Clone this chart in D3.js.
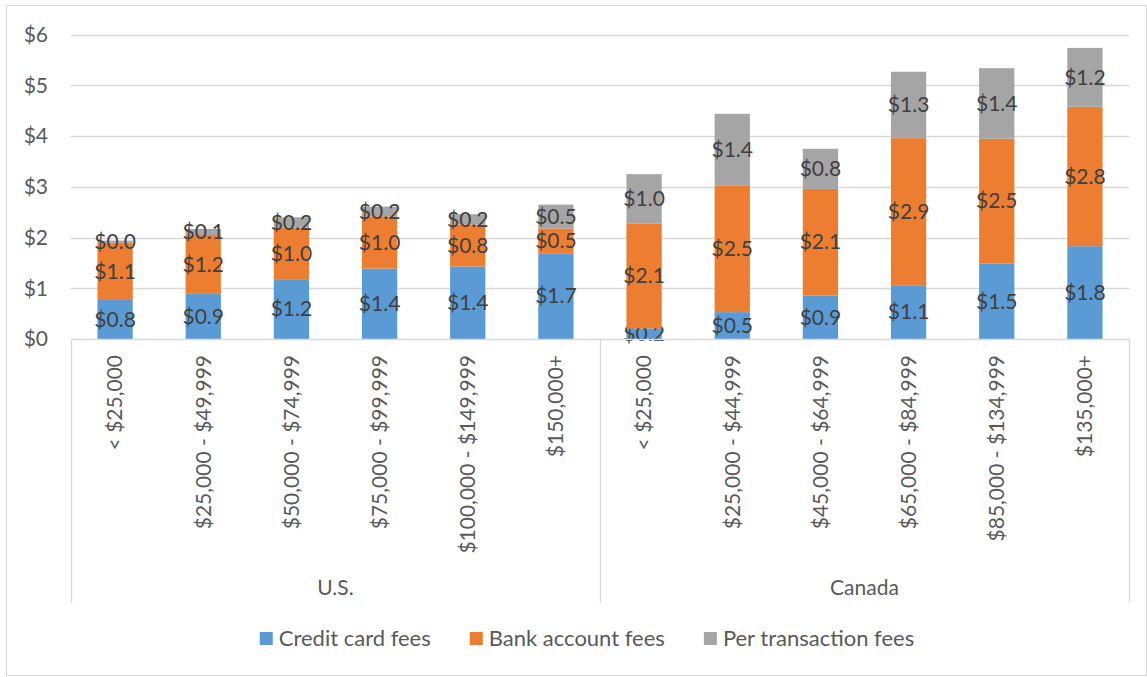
<!DOCTYPE html>
<html>
<head>
<meta charset="utf-8">
<script src="https://cdn.jsdelivr.net/npm/d3@7"></script>
<style>
  body { margin: 0; background: #fff; }
  text { font-family: Lato, sans-serif; }
</style>
</head>
<body>
<div id="main"></div>
<script>
// chart values
var countries = ['U.S.', 'Canada'];
var incomeUS = ['< $25,000', '$25,000 - $49,999', '$50,000 - $74,999', '$75,000 - $99,999', '$100,000 - $149,999', '$150,000+'];
var incomeCA = ['< $25,000', '$25,000 - $44,999', '$45,000 - $64,999', '$65,000 - $84,999', '$85,000 - $134,999', '$135,000+'];
var seriesNames = ['Credit card fees', 'Bank account fees', 'Per transaction fees'];
var creditCard = [0.77, 0.89, 1.18, 1.39, 1.43, 1.69, 0.21, 0.53, 0.86, 1.06, 1.49, 1.83];
var bankAccount = [1.13, 1.16, 1.02, 1.03, 0.83, 0.49, 2.07, 2.50, 2.10, 2.90, 2.46, 2.75];
var perTransaction = [0.04, 0.12, 0.20, 0.19, 0.20, 0.47, 0.97, 1.41, 0.79, 1.31, 1.39, 1.16];
var yTicks = [0, 1, 2, 3, 4, 5, 6];

var colors = ['#5B9BD5', '#ED7D31', '#A5A5A5'];

var width = 1147;
var height = 677;

var plotLeft = 71, plotRight = 1129, plotTop = 34.7, plotBottom = 339;

var rows = [];
incomeUS.forEach(function (d, i) {
  rows.push({ key: 'us' + i, group: 0, label: d });
});
incomeCA.forEach(function (d, i) {
  rows.push({ key: 'ca' + i, group: 1, label: d });
});
rows.forEach(function (r, i) {
  r[seriesNames[0]] = creditCard[i];
  r[seriesNames[1]] = bankAccount[i];
  r[seriesNames[2]] = perTransaction[i];
});

var stacked = d3.stack().keys(seriesNames)(rows);

var svg = d3.select('#main').append('svg')
  .attr('width', width)
  .attr('height', height);

// outer chart border
svg.append('rect')
  .attr('x', 6.5).attr('y', 5.5)
  .attr('width', 1140).attr('height', 670)
  .attr('fill', 'none')
  .attr('stroke', '#D9D9D9');

var x = d3.scaleBand()
  .domain(rows.map(function (d) { return d.key; }))
  .range([plotLeft, plotRight])
  .paddingInner(0.6)
  .paddingOuter(0.3);

var y = d3.scaleLinear()
  .domain([0, 6])
  .range([plotBottom, plotTop]);

// gridlines
svg.selectAll('.grid')
  .data(yTicks.slice(1))
  .enter()
  .append('line')
  .attr('class', 'grid')
  .attr('x1', plotLeft).attr('x2', plotRight)
  .attr('y1', function (d) { return Math.round(y(d)) + 0.5; })
  .attr('y2', function (d) { return Math.round(y(d)) + 0.5; })
  .attr('stroke', '#D9D9D9')
  .attr('stroke-width', 1.3);

// y labels
svg.selectAll('.ylab')
  .data(yTicks)
  .enter()
  .append('text')
  .attr('class', 'ylab')
  .attr('x', 48)
  .attr('y', function (d) { return y(d); })
  .attr('dy', '0.35em')
  .attr('text-anchor', 'end')
  .attr('font-size', 21)
  .attr('fill', '#595959')
  .text(function (d) { return '$' + d; });

// bars
var layer = svg.selectAll('.layer')
  .data(stacked)
  .enter()
  .append('g')
  .attr('class', 'layer')
  .attr('fill', function (d, i) { return colors[i]; });

layer.selectAll('rect')
  .data(function (d) { return d; })
  .enter()
  .append('rect')
  .attr('x', function (d) { return x(d.data.key); })
  .attr('width', x.bandwidth())
  .attr('y', function (d) { return y(d[1]); })
  .attr('height', function (d) { return y(d[0]) - y(d[1]); });

// category axis lines
var groupEdges = [plotLeft, x('ca0') - x.step() * 0.3, plotRight];
svg.append('line')
  .attr('x1', plotLeft).attr('x2', plotRight)
  .attr('y1', plotBottom + 0.5).attr('y2', plotBottom + 0.5)
  .attr('stroke', '#D9D9D9')
  .attr('stroke-width', 1.3);

svg.selectAll('.sep')
  .data(groupEdges)
  .enter()
  .append('line')
  .attr('class', 'sep')
  .attr('x1', function (d) { return Math.round(d) + 0.5; })
  .attr('x2', function (d) { return Math.round(d) + 0.5; })
  .attr('y1', plotBottom)
  .attr('y2', 603)
  .attr('stroke', '#D9D9D9')
  .attr('stroke-width', 1.3);

// data labels
var fmt = d3.format('$.1f');
layer.selectAll('.dlab')
  .data(function (d) { return d; })
  .enter()
  .append('text')
  .attr('class', 'dlab')
  .attr('x', function (d) { return x(d.data.key) + x.bandwidth() / 2; })
  .attr('y', function (d) { return (y(d[0]) + y(d[1])) / 2; })
  .attr('dy', '0.35em')
  .attr('text-anchor', 'middle')
  .attr('font-size', 21)
  .attr('fill', '#404040')
  .text(function (d) { return fmt(d[1] - d[0]); });

// rotated category labels
svg.selectAll('.clab')
  .data(rows)
  .enter()
  .append('text')
  .attr('class', 'clab')
  .attr('transform', function (d) {
    return 'translate(' + (x(d.key) + x.bandwidth() / 2) + ',355) rotate(-90)';
  })
  .attr('dy', '0.35em')
  .attr('text-anchor', 'end')
  .attr('font-size', 21)
  .attr('fill', '#595959')
  .text(function (d) { return d.label; });

// group labels
svg.selectAll('.glab')
  .data(countries)
  .enter()
  .append('text')
  .attr('class', 'glab')
  .attr('x', function (d, i) { return (groupEdges[i] + groupEdges[i + 1]) / 2; })
  .attr('y', 588)
  .attr('dy', '0.35em')
  .attr('text-anchor', 'middle')
  .attr('font-size', 21)
  .attr('fill', '#595959')
  .text(function (d) { return d; });

// legend
var legend = svg.append('g');
var lx = 0;
seriesNames.forEach(function (name, i) {
  var g = legend.append('g').attr('transform', 'translate(' + lx + ',0)');
  g.append('rect')
    .attr('x', 0).attr('y', -6.5)
    .attr('width', 13).attr('height', 13)
    .attr('fill', colors[i]);
  var t = g.append('text')
    .attr('x', 19)
    .attr('y', 0)
    .attr('dy', '0.35em')
    .attr('font-size', 22)
    .attr('fill', '#595959')
    .text(name);
  lx += 19 + t.node().getComputedTextLength() + 39;
});
var legendWidth = lx - 39;
legend.attr('transform', 'translate(' + (587 - legendWidth / 2) + ',638.5)');
</script>
</body>
</html>
